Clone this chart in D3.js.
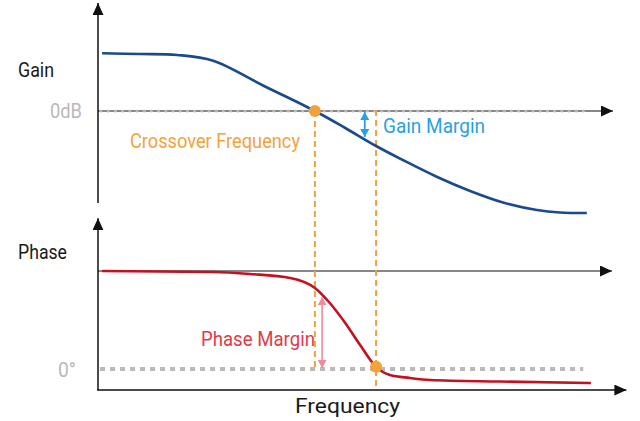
<!DOCTYPE html>
<html>
<head>
<meta charset="utf-8">
<script src="https://cdn.jsdelivr.net/npm/d3@7"></script>
<style>
  html, body { margin: 0; padding: 0; background: #fff; }
  svg { display: block; font-family: Roboto, "Liberation Sans", sans-serif; }
</style>
</head>
<body>
<svg id="chart" width="640" height="421"></svg>
<script>
// ---- data (abstract units: frequency 0..100, gain in dB, phase in degrees) ----
const gainFreq  = [0.8, 8.2, 15.4, 22.4, 32.3, 42.2, 48.1, 54.1, 59.3, 66.0, 72.4, 78.8, 85.4, 89.9, 95.1];
const gainValue = [28.85, 28.5, 28, 25.15, 12.5, 0, -8.5, -17.5, -24.5, -33, -40, -45.75, -49.5, -50.75, -51];

const phaseFreq  = [0.8, 22.4, 29.6, 37.4, 42.2, 45.1, 48.1, 51.0, 54.1, 56.8, 60.7, 64.6, 78.2, 95.9];
const phaseValue = [180, 178.2, 174.5, 167.2, 148.8, 121.2, 84.5, 44.1, 4, -11, -16.5, -20.2, -23, -25.7];

const crossoverFreq = 42.2;      // gain crosses 0 dB
const phaseCrossFreq = 54.1;     // phase reaches 0°
const gainMarginFreq = 51.9;
const gainMarginRange = [-0.5, -13];
const phaseMarginFreq = 43.6;
const phaseMarginRange = [132, 2];
const phaseRef = 180;

const labels = {
  gain: "Gain", zeroDb: "0dB", crossover: "Crossover Frequency", gainMargin: "Gain Margin",
  phase: "Phase", zeroDeg: "0°", phaseMargin: "Phase Margin", freq: "Frequency"
};

// ---- scales ----
const x = d3.scaleLinear().domain([0, 100]).range([98, 612]);
const yG = d3.scaleLinear().domain([-50, 50]).range([211, 11]);
const yP = d3.scaleLinear().domain([0, 180]).range([369, 271]);

const svg = d3.select("#chart");

const C = {
  blue: "#1B4A8C", red: "#C3121F", orange: "#F2A23A", gm: "#2A9FE2",
  pmText: "#E23A4A", pmArrow: "#F08A98", gray: "#B9B9B9", black: "#111"
};

// marker defs
const defs = svg.append("defs");
function tri(id, color, w, h) {
  defs.append("marker").attr("id", id)
    .attr("viewBox", `0 0 ${w} ${h}`).attr("refX", w).attr("refY", h / 2)
    .attr("markerWidth", w).attr("markerHeight", h).attr("markerUnits", "userSpaceOnUse")
    .attr("orient", "auto-start-reverse")
    .append("path").attr("d", `M0,0L${w},${h / 2}L0,${h}Z`).attr("fill", color);
}
tri("axArrow", C.black, 12, 11);
tri("gmArrow", C.gm, 8, 9);
tri("pmArrow", C.pmArrow, 8, 9);

// ---- axes ----
const axisX0 = x(0);
// top panel vertical axis
svg.append("line").attr("x1", axisX0).attr("x2", axisX0).attr("y1", yG(-46)).attr("y2", yG(54))
  .attr("stroke", C.black).attr("stroke-width", 1.5).attr("marker-end", "url(#axArrow)");
// 0 dB line
svg.append("line").attr("x1", axisX0).attr("x2", x(100.2)).attr("y1", yG(0)).attr("y2", yG(0))
  .attr("stroke", C.black).attr("stroke-width", 1.2).attr("marker-end", "url(#axArrow)");
svg.append("line").attr("x1", axisX0 + 3).attr("x2", x(94.5)).attr("y1", yG(0)).attr("y2", yG(0))
  .attr("stroke", C.gray).attr("stroke-width", 3.2).attr("stroke-linecap", "round")
  .attr("stroke-dasharray", "0 7.2");

// bottom panel vertical axis
svg.append("line").attr("x1", axisX0).attr("x2", axisX0).attr("y1", yP(-38.6)).attr("y2", yP(277))
  .attr("stroke", C.black).attr("stroke-width", 1.5).attr("marker-end", "url(#axArrow)");
// phase reference line
svg.append("line").attr("x1", axisX0).attr("x2", x(100)).attr("y1", yP(phaseRef)).attr("y2", yP(phaseRef))
  .attr("stroke", C.black).attr("stroke-width", 1.2).attr("marker-end", "url(#axArrow)");
// 0° dotted line
svg.append("line").attr("x1", x(0.4)).attr("x2", x(94.4)).attr("y1", yP(0)).attr("y2", yP(0))
  .attr("stroke", C.gray).attr("stroke-width", 4).attr("stroke-dasharray", "5 5");
// frequency axis
svg.append("line").attr("x1", axisX0 - 1).attr("x2", x(102.8)).attr("y1", yP(-38.6)).attr("y2", yP(-38.6))
  .attr("stroke", C.black).attr("stroke-width", 1.5).attr("marker-end", "url(#axArrow)");

// ---- orange dashed verticals ----
svg.append("line").attr("x1", x(crossoverFreq)).attr("x2", x(crossoverFreq))
  .attr("y1", yG(0)).attr("y2", yP(1))
  .attr("stroke", C.orange).attr("stroke-width", 2).attr("stroke-dasharray", "6 4");
svg.append("line").attr("x1", x(phaseCrossFreq)).attr("x2", x(phaseCrossFreq))
  .attr("y1", yG(0.5)).attr("y2", yP(-35))
  .attr("stroke", C.orange).attr("stroke-width", 2).attr("stroke-dasharray", "6 4");

// ---- curves ----
const gainData = gainFreq.map((f, i) => [f, gainValue[i]]);
const phaseData = phaseFreq.map((f, i) => [f, phaseValue[i]]);

svg.append("path").datum(gainData)
  .attr("d", d3.line().x(d => x(d[0])).y(d => yG(d[1])).curve(d3.curveCatmullRom.alpha(0.5)))
  .attr("fill", "none").attr("stroke", C.blue).attr("stroke-width", 2.6);

svg.append("path").datum(phaseData)
  .attr("d", d3.line().x(d => x(d[0])).y(d => yP(d[1])).curve(d3.curveMonotoneX))
  .attr("fill", "none").attr("stroke", C.red).attr("stroke-width", 2.6);

// ---- margin arrows ----
svg.append("line").attr("x1", x(gainMarginFreq)).attr("x2", x(gainMarginFreq))
  .attr("y1", yG(gainMarginRange[0])).attr("y2", yG(gainMarginRange[1]))
  .attr("stroke", C.gm).attr("stroke-width", 1.8)
  .attr("marker-start", "url(#gmArrow)").attr("marker-end", "url(#gmArrow)");
svg.append("line").attr("x1", x(phaseMarginFreq)).attr("x2", x(phaseMarginFreq))
  .attr("y1", yP(phaseMarginRange[0])).attr("y2", yP(phaseMarginRange[1]))
  .attr("stroke", C.pmArrow).attr("stroke-width", 1.6)
  .attr("marker-start", "url(#pmArrow)").attr("marker-end", "url(#pmArrow)");

// ---- dots ----
svg.append("circle").attr("cx", x(crossoverFreq)).attr("cy", yG(0)).attr("r", 6).attr("fill", C.orange);
svg.append("circle").attr("cx", x(phaseCrossFreq)).attr("cy", yP(4)).attr("r", 6).attr("fill", C.orange);

// ---- text ----
function txt(t, xx, yy, color, w, size) {
  const el = svg.append("text").attr("x", xx).attr("y", yy).attr("fill", color)
    .attr("font-size", size || 21).text(t);
  if (w) el.attr("textLength", w).attr("lengthAdjust", "spacingAndGlyphs");
  return el;
}
txt(labels.gain, 18, 77, "#1a1a1a", 36);
txt(labels.zeroDb, 50, 118, C.gray, 32);
txt(labels.crossover, 130, 148, C.orange, 170);
txt(labels.gainMargin, 383, 133, C.gm, 102);
txt(labels.phase, 18, 259, "#1a1a1a", 49);
txt(labels.phaseMargin, 201, 346, C.pmText, 114);
txt(labels.zeroDeg, 58, 377, C.gray, 18);
txt(labels.freq, 295, 413, "#1a1a1a", 105, 21);
</script>
</body>
</html>
